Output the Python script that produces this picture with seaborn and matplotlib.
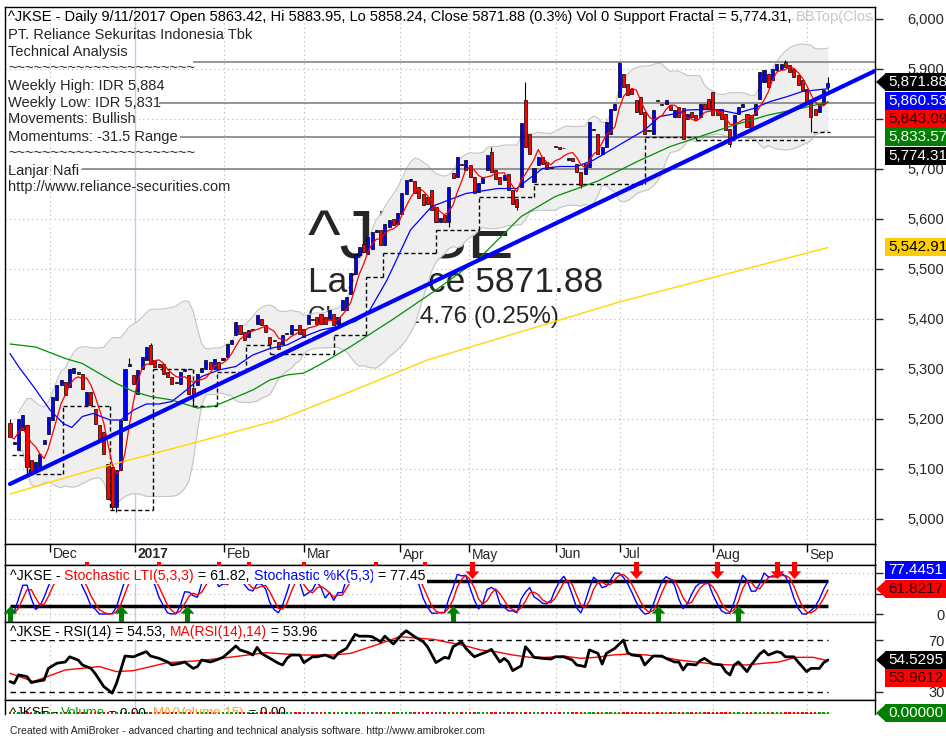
import numpy as np
import pandas as pd
import seaborn as sns
import matplotlib
matplotlib.use("Agg")
import matplotlib.pyplot as plt
from matplotlib.patches import Polygon, Rectangle

# ^JKSE daily bars, index 0 = late Nov 2016 ... 192 = 11 Sep 2017
opens = [
    5193, 5150, 5138, 5178, 5188, 5118, 5098, 5105, 5150, 5171,
    5198, 5238, 5268, 5275, 5265, 5292, 5295, 5291, 5228, 5255,
    5221, 5188, 5175, 5111, 5105, 5025, 5098, 5198, 5306, 5288,
    5251, 5301, 5318, 5348, 5318, 5310, 5311, 5295, 5285, 5275,
    5271, 5296, 5288, 5262, 5268, 5295, 5301, 5315, 5301, 5315,
    5318, 5325, 5350, 5368, 5388, 5375, 5365, 5378, 5391, 5401,
    5388, 5365, 5358, 5355, 5351, 5370, 5371, 5380, 5388, 5381,
    5391, 5400, 5405, 5411, 5405, 5401, 5411, 5391, 5418, 5418,
    5450, 5490, 5528, 5550, 5530, 5540, 5575, 5578, 5548, 5585,
    5600, 5590, 5610, 5650, 5676, 5676, 5665, 5651, 5645, 5658,
    5625, 5595, 5608, 5595, 5692, 5685, 5710, 5698, 5708, 5685,
    5655, 5672, 5698, 5735, 5698, 5685, 5678, 5691, 5658, 5640,
    5665, 5838, 5771, 5675, 5708, 5725, 5715, 5705, 5746, 5745,
    5742, 5718, 5722, 5711, 5695, 5691, 5705, 5778, 5771, 5731,
    5745, 5771, 5818, 5845, 5891, 5871, 5860, 5838, 5845, 5815,
    5778, 5771, 5838, 5830, 5831, 5828, 5805, 5825, 5823, 5801,
    5815, 5808, 5805, 5831, 5841, 5855, 5821, 5821, 5811, 5781,
    5768, 5811, 5825, 5811, 5808, 5808, 5841, 5875, 5891, 5878,
    5898, 5901, 5915, 5908, 5901, 5888, 5878, 5861, 5838, 5821,
    5815, 5831, 5863.42,
]
closes = [
    5165, 5155, 5201, 5208, 5105, 5095, 5115, 5131, 5158, 5205,
    5245, 5268, 5278, 5248, 5301, 5303, 5291, 5261, 5255, 5228,
    5191, 5158, 5131, 5041, 5025, 5098, 5198, 5301, 5310, 5271,
    5298, 5325, 5345, 5311, 5305, 5305, 5291, 5285, 5271, 5272,
    5295, 5300, 5251, 5250, 5291, 5302, 5318, 5300, 5321, 5300,
    5322, 5351, 5358, 5395, 5371, 5358, 5378, 5380, 5408, 5388,
    5375, 5351, 5356, 5341, 5368, 5372, 5388, 5378, 5371, 5365,
    5408, 5398, 5391, 5391, 5391, 5418, 5388, 5405, 5438, 5445,
    5492, 5530, 5545, 5535, 5565, 5575, 5578, 5548, 5590, 5598,
    5588, 5612, 5652, 5678, 5680, 5652, 5642, 5628, 5631, 5618,
    5595, 5602, 5595, 5665, 5682, 5725, 5708, 5718, 5685, 5652,
    5672, 5684, 5728, 5695, 5681, 5671, 5688, 5658, 5630, 5625,
    5791, 5745, 5731, 5702, 5725, 5711, 5701, 5703, 5744, 5740,
    5743, 5723, 5716, 5695, 5668, 5711, 5795, 5780, 5731, 5745,
    5795, 5821, 5831, 5911, 5865, 5848, 5850, 5815, 5811, 5771,
    5776, 5818, 5836, 5828, 5838, 5818, 5818, 5805, 5761, 5811,
    5805, 5798, 5831, 5821, 5821, 5808, 5808, 5801, 5778, 5751,
    5808, 5825, 5831, 5785, 5781, 5831, 5895, 5898, 5865, 5901,
    5911, 5911, 5905, 5895, 5885, 5868, 5858, 5831, 5805, 5808,
    5831, 5858, 5871.88,
]
# bars with a visible wick beyond the body
wick_high = {0: 5200, 28: 5322, 33: 5352, 93: 5662, 113: 5745, 121: 5875,
             143: 5915, 182: 5918, 192: 5883.95}
wick_low = {4: 5092, 24: 5018, 25: 5015, 43: 5224, 103: 5585, 119: 5618,
            134: 5662, 169: 5745, 188: 5774.31, 192: 5858.24}

# moving averages (20 blue, 50 green, 200 yellow) read at anchor bars
blue_bars = [0, 2, 5.5, 9.4, 12.5, 14.5, 17, 19.5, 23.5, 26,
             29, 32, 35, 38, 42, 45, 49, 53, 57, 61,
             65, 69, 73, 77, 81, 84, 88.5, 94, 99, 107,
             114.5, 119, 121, 125, 129, 133, 137, 141, 145, 149,
             152.5, 156.5, 159, 163, 166.5, 170.5, 174.5, 178.5, 182.5, 186, 192]
blue_vals = [5331, 5305, 5265, 5218, 5191, 5183, 5205, 5211, 5198, 5198,
             5218, 5230, 5230, 5235, 5262, 5285, 5298, 5305, 5328, 5341,
             5348, 5365, 5378, 5385, 5395, 5411, 5478, 5578, 5625, 5651,
             5661, 5661, 5675, 5701, 5705, 5705, 5718, 5738, 5758, 5778,
             5805, 5811, 5818, 5819, 5818, 5811, 5821, 5835, 5845, 5855, 5860.53]
green_bars = [0, 6, 13, 17, 21, 25, 29, 33, 38, 44,
              48, 52, 57, 61, 65, 69, 73, 80, 90, 100,
              110, 120, 128, 138, 148, 155, 163, 170, 178, 186, 192]
green_vals = [5350, 5344, 5321, 5311, 5291, 5271, 5255, 5245, 5238, 5222,
              5226, 5240, 5258, 5278, 5288, 5292, 5310, 5345, 5400, 5458,
              5520, 5605, 5645, 5676, 5718, 5745, 5768, 5788, 5808, 5822, 5833.57]
yellow_bars = [0, 20, 40, 63, 80, 98, 143, 192]
yellow_vals = [5050, 5100, 5145, 5198, 5255, 5318, 5434, 5542.91]

trend_bars = [0, 203]
trend_vals = [5070, 5896]

sr_levels = [5914, 5832, 5764, 5700]
sr_start = [43, 35, 40, 17]

sup_start = [0.5, 4.5, 12.5, 23.5, 33.5, 43, 48.5, 55.5, 61, 76, 83.5, 87.5, 100, 110, 123, 149, 161, 188.5]
sup_end = [4.5, 12.5, 23.5, 33.5, 43, 48.5, 55.5, 61, 76, 83.5, 87.5, 100, 110, 123, 149, 161, 187, 192.5]
sup_level = [5128, 5090, 5226, 5018, 5300, 5226, 5295, 5348, 5331, 5368, 5485, 5533, 5578, 5645, 5670, 5765, 5758, 5774]

month_labels = ["Dec", "2017", "Feb", "Mar", "Apr", "May", "Jun", "Jul", "Aug", "Sep"]
month_pos = [9.4, 29.3, 50.2, 69, 91.5, 107.8, 128.2, 143.2, 165, 187]

buy_bars = [0, 26, 41.5, 104, 152, 171]
sell_bars = [108.4, 147, 166, 180, 184]
sell_cut = [18, 35, 49, 56, 69, 86, 97.5]

rsi_bars = [0, 1, 2, 4, 5, 6, 8, 9, 11, 13,
            14, 16, 17, 19, 20, 22, 24, 25, 26, 27,
            29, 30, 32, 33, 35, 37, 38, 40, 41, 43,
            44, 45, 47, 48, 50, 52, 53, 54, 56, 57,
            58, 59, 61, 63, 64, 65, 66, 68, 69, 71,
            72, 74, 76, 77, 79, 81, 82, 84, 85, 87,
            88, 90, 92, 93, 95, 97, 98, 100, 102, 103,
            104, 106, 107, 109, 110, 112, 113, 115, 116, 117,
            118, 120, 121, 122, 123, 125, 127, 128, 130, 132,
            133, 135, 136, 138, 139, 140, 142, 144, 145, 146,
            148, 149, 151, 153, 154, 156, 157, 158, 159, 161,
            162, 163, 165, 167, 168, 169, 170, 171, 173, 174,
            176, 177, 178, 180, 181, 182, 184, 185, 187, 188,
            190, 191, 192]
rsi_vals = [37.8, 36.5, 43, 41.6, 37, 37.8, 39, 48, 52, 53,
            57, 54.5, 50.7, 48, 44, 34, 28.8, 36.5, 46.8, 57.6,
            57, 58.4, 61, 57.6, 55.8, 53, 50.7, 52, 53, 48,
            49.4, 54.5, 53, 54, 56.6, 62.3, 65.4, 62.3, 60.2, 58.4,
            64.3, 59.7, 55.8, 52, 50.7, 55.8, 58.4, 58.4, 52.5, 57,
            57, 58.4, 55.8, 59.7, 63.6, 74.4, 73, 73, 72.6, 68.7,
            73, 66.9, 74.4, 77.2, 72.6, 68.7, 64.8, 52.5, 56.6, 55.8,
            64.8, 68.7, 63.6, 57, 58.4, 61, 62.8, 53, 55.8, 53,
            46.3, 50, 64.8, 61, 56.6, 55.8, 55.3, 57, 57, 54.5,
            50.7, 49.4, 62.3, 59.7, 51.4, 59.7, 63.6, 70, 60.2, 58.4,
            57.6, 50.7, 57.6, 57.6, 55.8, 53, 53, 46.8, 51.4, 50.7,
            54, 55.8, 51.4, 50.7, 45.5, 42.9, 50.7, 53, 45.5, 50.7,
            59.2, 61.8, 58.4, 61, 60.2, 57, 57, 53, 45.5, 48,
            48, 52.5, 54.53]
rsi_ma_bars = [0, 5.5, 13, 21, 25, 29, 37, 44.5, 52.5, 60,
               68, 76, 80, 87.5, 91.5, 99.5, 107, 110.5, 114, 118,
               122, 126, 130, 134, 137.5, 141.5, 145.5, 149.5, 153.5, 157,
               161, 165, 169, 173, 177, 180.5, 184.5, 188.5, 192]
rsi_ma_vals = [44.2, 37.8, 46.8, 49.4, 45.5, 46.3, 52.5, 54, 57, 60.2,
               58.4, 58.4, 59.7, 67.9, 72.6, 70.5, 65.4, 62.3, 61, 58.4,
               56.6, 56.6, 57.6, 55.8, 56.6, 58.4, 59.2, 58.4, 56.6, 54.5,
               53, 51.4, 50.7, 50.7, 52, 53, 56.6, 56.6, 53.96]

# ---------------------------------------------------------------- frame
df = pd.DataFrame({"open": opens, "close": closes})
df["bar"] = np.arange(len(df))
df["high"] = df[["open", "close"]].max(axis=1)
df["low"] = df[["open", "close"]].min(axis=1)
for k, v in wick_high.items():
    df.loc[k, "high"] = max(v, df.loc[k, "high"])
for k, v in wick_low.items():
    df.loc[k, "low"] = min(v, df.loc[k, "low"])
up = df["close"] >= df["open"]

df["ma_fast"] = df["close"].rolling(5, min_periods=1).mean()
mid = df["close"].rolling(20, min_periods=3).mean()
sd = df["close"].rolling(20, min_periods=3).std(ddof=0)
df["bb_top"] = mid + 2 * sd
df["bb_bot"] = mid - 2 * sd

hh = df["high"].rolling(5, min_periods=1).max()
ll = df["low"].rolling(5, min_periods=1).min()
raw_k = 100 * (df["close"] - ll) / (hh - ll).replace(0, np.nan)
df["stoch_k"] = raw_k.fillna(50).rolling(3, min_periods=1).mean()
df["stoch_lti"] = df["stoch_k"].rolling(3, min_periods=1).mean()

# ---------------------------------------------------------------- figure
sns.set_style("white")
plt.rcParams["font.family"] = ["Liberation Sans", "DejaVu Sans"]

W, H = 946, 736
fig = plt.figure(figsize=(W / 100, H / 100), dpi=100)


def panel(top, bottom):
    return fig.add_axes([5 / W, 1 - bottom / H, 870 / W, (bottom - top) / H])


ax_p = panel(7, 544)
ax_d = panel(544, 565)
ax_s = panel(565, 622)
ax_r = panel(622, 700)
ax_v = panel(700, 714)

dot = (0, (1, 3))
for ax in (ax_p, ax_d, ax_s, ax_r, ax_v):
    ax.set_xlim(-1.17, 203.05)
    ax.set_xticks(month_pos)
    ax.tick_params(axis="x", length=0, labelbottom=False)
    ax.set_yticks([])
    for sp in ax.spines.values():
        sp.set_color("black")
        sp.set_linewidth(1)
    ax.set_axisbelow(True)
ax_v.spines["bottom"].set_visible(False)
for ax in (ax_p, ax_s, ax_r, ax_v):
    ax.grid(True, axis="x", color="#B4B4B4", ls=dot, lw=0.8)
    ax.axvline(month_pos[1], color="#C8C8F5", lw=1, zorder=0.7)


def right_ticks(ax, ticks, labels):
    ax.yaxis.tick_right()
    ax.set_yticks(ticks)
    ax.set_yticklabels(labels)
    ax.tick_params(axis="y", direction="out", length=6, width=1, pad=44,
                   labelsize=10.5, right=True, left=False)
    for t in ax.get_yticklabels():
        t.set_horizontalalignment("right")


def chain(ax, x, y, pieces, size, bg=None, clip=False):
    prev = None
    bbox = dict(fc=bg, ec="none", pad=1) if bg else None
    for s, col in pieces:
        if prev is None:
            prev = ax.text(x, y, s, color=col, fontsize=size, transform=ax.transAxes,
                           va="center", ha="left", zorder=10, bbox=bbox, clip_on=clip)
        else:
            prev = ax.annotate(s, xy=(1, 0), xycoords=prev, va="bottom", ha="left",
                               color=col, fontsize=size, zorder=10, bbox=bbox,
                               annotation_clip=False, clip_on=clip)


# ---------------------------------------------------------------- price panel
ax_p.set_ylim(4950, 6024)
price_ticks = list(range(5000, 6001, 100))
# the 5,800 label sits under the value tags, as in the source chart
right_ticks(ax_p, price_ticks, ["" if v == 5800 else f"{v:,}" for v in price_ticks])
ax_p.grid(True, axis="y", color="#B4B4B4", ls=dot, lw=0.8)

figt = fig.transFigure
ax_p.text(308 / W, 1 - 258 / H, "^JKSE", transform=figt, fontsize=50, va="baseline", zorder=0.8)
ax_p.text(308 / W, 1 - 292 / H, "Last Price 5871.88", transform=figt, fontsize=25.5, va="baseline", zorder=0.8)
ax_p.text(308 / W, 1 - 323 / H, "Change: 14.76 (0.25%)", transform=figt, fontsize=17.5, va="baseline", zorder=0.8)

ax_p.fill_between(df["bar"], df["bb_bot"], df["bb_top"], color="#EFEFEF", zorder=1, lw=0)
ax_p.plot(df["bar"], df["bb_top"], color="#C4C4C4", lw=0.8, zorder=1.1)
ax_p.plot(df["bar"], df["bb_bot"], color="#C4C4C4", lw=0.8, zorder=1.1)

ax_p.hlines(sr_levels, sr_start, 203.05, color="#8C8C8C", lw=1.3, zorder=2)
for i in range(len(sup_level)):
    ax_p.hlines(sup_level[i], sup_start[i], sup_end[i], color="black", lw=1, ls=(0, (3, 2)), zorder=2.5)
    if i + 1 < len(sup_level) and sup_end[i] == sup_start[i + 1]:
        ax_p.vlines(sup_end[i], sup_level[i], sup_level[i + 1], color="black", lw=1,
                    ls=(0, (3, 2)), zorder=2.5)

ax_p.vlines(df["bar"], df["low"], df["high"], color="black", lw=0.8, zorder=4)
body_lo = df[["open", "close"]].min(axis=1)
body_h = (df["close"] - df["open"]).abs()
ax_p.bar(df["bar"], body_h, bottom=body_lo, width=0.72,
         color=np.where(up, "#0000FF", "#FF0000"), edgecolor="black", linewidth=0.5, zorder=5)

sns.lineplot(x=yellow_bars, y=yellow_vals, ax=ax_p, color="#FFD800", lw=1, zorder=6, estimator=None)
sns.lineplot(x=green_bars, y=green_vals, ax=ax_p, color="#009000", lw=0.9, zorder=6, estimator=None)
sns.lineplot(x=blue_bars, y=blue_vals, ax=ax_p, color="#0000FF", lw=0.9, zorder=6, estimator=None)
sns.lineplot(x=df["bar"], y=df["ma_fast"], ax=ax_p, color="#FF0000", lw=0.9, zorder=6.5, estimator=None)
sns.lineplot(x=trend_bars, y=trend_vals, ax=ax_p, color="#0000FF", lw=3, zorder=7, estimator=None)
ax_p.set_xlabel("")
ax_p.set_ylabel("")

chain(ax_p, 3 / 870, 1 - 10 / 537,
      [("^JKSE - Daily 9/11/2017 Open 5863.42, Hi 5883.95, Lo 5858.24, Close 5871.88 (0.3%) "
        "Vol 0 Support Fractal = 5,774.31, ", "black"), ("BBTop(Clos", "#C8C8C8")], 10.5)
info = ["PT. Reliance Sekuritas Indonesia Tbk", "Technical Analysis", "~" * 22,
        "Weekly High: IDR 5,884", "Weekly Low: IDR 5,831", "Movements: Bullish",
        "Momentums: -31.5 Range", "~" * 22, "Lanjar Nafi", "http://www.reliance-securities.com"]
info_y = [35, 52, 68, 86, 103, 119, 137, 153, 171, 187]
for s, yy in zip(info, info_y):
    ax_p.text(8 / W, 1 - yy / H, s, transform=figt, fontsize=10.5, va="center", zorder=10)

# ---------------------------------------------------------------- date strip
ax_d.set_ylim(0, 1)
ax_d.vlines(month_pos, 0.6, 1, color="black", lw=1)
for lab, pos in zip(month_labels, month_pos):
    ax_d.text(pos + 0.7, 0.5, lab, fontsize=10, va="center", ha="left",
              fontweight="bold" if lab == "2017" else "normal")

# ---------------------------------------------------------------- stochastic
ax_s.set_ylim(-19.5, 119.5)
right_ticks(ax_s, [0, 50, 100], ["0", "", ""])
ax_s.grid(True, axis="y", color="#B4B4B4", ls=dot, lw=0.8)
ax_s.hlines([80, 20], 0, 192, color="black", lw=2.5, zorder=3)
sns.lineplot(x=df["bar"], y=df["stoch_k"], ax=ax_s, color="#0000FF", lw=1, zorder=4, estimator=None)
sns.lineplot(x=df["bar"], y=df["stoch_lti"], ax=ax_s, color="#FF0000", lw=1, zorder=4, estimator=None)
ax_s.set_xlabel("")
ax_s.set_ylabel("")
arrow_up = [(0, 1), (0.8, 0.1), (0.3, 0.1), (0.3, -1), (-0.3, -1), (-0.3, 0.1), (-0.8, 0.1), (0, 1)]
arrow_dn = [(x, -y) for x, y in arrow_up]
ax_s.scatter(buy_bars, [1] * len(buy_bars), marker=arrow_up, s=150, color="#008000", zorder=8, clip_on=False, lw=0)
ax_s.scatter(sell_bars, [108] * len(sell_bars), marker=arrow_dn, s=150, color="#FF0000", zorder=8, clip_on=False, lw=0)
ax_s.scatter(sell_cut, [122] * len(sell_cut), marker="s", s=10, color="#FF0000", zorder=8, clip_on=False, lw=0)
chain(ax_s, 5 / 870, 1 - 11 / 57,
      [("^JKSE - ", "black"), ("Stochastic LTI(5,3,3)", "#FF0000"), (" = 61.82, ", "black"),
       ("Stochastic %K(5,3)", "#0000FF"), (" = 77.45", "black")], 10.2, bg="white")

# ---------------------------------------------------------------- RSI
ax_r.set_ylim(23.5, 84)
right_ticks(ax_r, [30, 70], ["30", "70"])
ax_r.hlines([70, 30], 0, 192, color="black", lw=1, ls=(0, (4, 3)), zorder=3)
sns.lineplot(x=rsi_ma_bars, y=rsi_ma_vals, ax=ax_r, color="#FF0000", lw=1, zorder=4, estimator=None)
sns.lineplot(x=rsi_bars, y=rsi_vals, ax=ax_r, color="black", lw=2, zorder=5, estimator=None)
ax_r.set_xlabel("")
ax_r.set_ylabel("")
chain(ax_r, 5 / 870, 1 - 10 / 78,
      [("^JKSE - RSI(14) = 54.53, ", "black"), ("MA(RSI(14),14)", "#FF0000"), (" = 53.96", "black")],
      10, bg="white")

# ---------------------------------------------------------------- volume
ax_v.set_ylim(-0.07, 0.93)
vol_colors = np.where(up, "#00A000", "#FF0000")
ax_v.scatter(df["bar"], np.zeros(len(df)), marker="s", s=3, c=vol_colors, lw=0, zorder=4, clip_on=False)
ax_v.hlines(0, 134, 192, color="#FF9933", lw=1, zorder=3)
chain(ax_v, 5 / 870, 0.07,
      [("^JKSE - ", "black"), ("Volume", "#00A000"), (" = 0.00, ", "black"),
       ("MA(Volume,15)", "#FF9933"), (" = 0.00", "black")], 9.5, clip=True)


# ---------------------------------------------------------------- value tags at the right
def tag(y, label, face, tcolor, pointer=False):
    fig.patches.append(Rectangle((885 / W, 1 - (y + 9) / H), (W - 885) / W, 18 / H,
                                 transform=figt, facecolor=face, edgecolor="none", zorder=5))
    if pointer:
        fig.patches.append(Polygon([(876 / W, 1 - y / H), (886 / W, 1 - (y - 9) / H), (886 / W, 1 - (y + 9) / H)],
                                   closed=True, transform=figt, facecolor=face, edgecolor="none", zorder=5))
    fig.text(888 / W, 1 - y / H, label, color=tcolor, fontsize=11, va="center", ha="left", zorder=6)


tag(82, "5,871.88", "black", "white", True)
tag(101, "5,860.53", "#0000FF", "white")
tag(119, "5,843.09", "#FF0000", "#300000")
tag(137, "5,833.57", "#008000", "white")
tag(156, "5,774.31", "black", "white")
tag(247, "5,542.91", "#FFCC00", "black")
tag(570, "77.4451", "#0000FF", "white")
tag(589, "61.8217", "#FF0000", "#300000", True)
tag(660, "54.5295", "black", "white", True)
tag(678, "53.9612", "#FF0000", "#300000")
tag(713, "0.00000", "#008000", "white", True)

fig.text(10 / W, 1 - 731 / H,
         "Created with AmiBroker - advanced charting and technical analysis software. http://www.amibroker.com",
         fontsize=7.5, va="center")

fig.savefig("out.png", dpi=100, facecolor="white")
